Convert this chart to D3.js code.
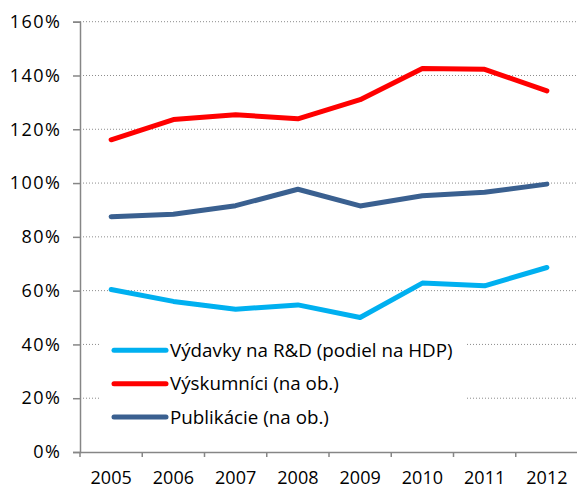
<!DOCTYPE html>
<html>
<head>
<meta charset="utf-8">
<script src="https://cdn.jsdelivr.net/npm/d3@7"></script>
<style>
  body { margin: 0; background: #fff; }
  svg { display: block; font-family: "Open Sans", "Noto Sans", sans-serif; }
</style>
</head>
<body>
<svg id="chart" width="577" height="489"></svg>
<script>
const years = ["2005", "2006", "2007", "2008", "2009", "2010", "2011", "2012"];
const yTicks = [0, 0.2, 0.4, 0.6, 0.8, 1.0, 1.2, 1.4, 1.6];

// hodnoty odcitane z grafu
const vydavky = [0.604, 0.560, 0.531, 0.547, 0.500, 0.628, 0.618, 0.686];
const vyskumnici = [1.161, 1.236, 1.254, 1.239, 1.310, 1.426, 1.423, 1.343];
const publikacie = [0.875, 0.884, 0.916, 0.977, 0.915, 0.953, 0.966, 0.996];

const seriesNames = ["Výdavky na R&D (podiel na HDP)", "Výskumníci (na ob.)", "Publikácie (na ob.)"];
const seriesColors = ["#00b0f0", "#ff0000", "#3a6090"];

const svg = d3.select("#chart");
const plotLeft = 80, plotRight = 578, plotTop = 21.7, plotBottom = 452;
const fontSize = 18;

const x = d3.scaleBand().domain(years).range([plotLeft, plotRight]);
const y = d3.scaleLinear().domain([0, 1.6]).range([plotBottom, plotTop]);

// gridlines
svg.append("g")
  .selectAll("line")
  .data(yTicks.slice(1))
  .join("line")
  .attr("x1", plotLeft)
  .attr("x2", plotRight)
  .attr("y1", d => y(d))
  .attr("y2", d => y(d))
  .attr("stroke", "#8c8c8c")
  .attr("stroke-width", 1)
  .attr("stroke-dasharray", "1,2");

// y axis
const yAxis = svg.append("g")
  .attr("transform", `translate(${plotLeft},0)`)
  .call(d3.axisLeft(y).tickValues(yTicks).tickSize(7).tickFormat(d => Math.round(d * 100) + "%"));
yAxis.select(".domain").attr("stroke", "#868686").attr("stroke-width", 1.5);
yAxis.selectAll(".tick line").attr("stroke", "#868686").attr("stroke-width", 1.5);
yAxis.selectAll(".tick text")
  .attr("x", -18.5)
  .attr("font-size", fontSize)
  .attr("letter-spacing", 1.5)
  .attr("font-family", "Open Sans")
  .attr("fill", "#000");

// x axis
const xAxis = svg.append("g")
  .attr("transform", `translate(0,${plotBottom})`)
  .call(d3.axisBottom(x).tickSize(0).tickSizeOuter(0));
xAxis.select(".domain").attr("stroke", "#868686").attr("stroke-width", 1.5);
xAxis.selectAll(".tick text")
  .attr("y", 19)
  .attr("font-size", fontSize)
  .attr("font-family", "Open Sans")
  .attr("fill", "#000");
// ticks between categories
xAxis.selectAll(".sep")
  .data(years)
  .join("line")
  .attr("class", "sep")
  .attr("x1", d => x(d))
  .attr("x2", d => x(d))
  .attr("y1", 0)
  .attr("y2", 5)
  .attr("stroke", "#868686")
  .attr("stroke-width", 1.5);

// lines
const allSeries = [vydavky, vyskumnici, publikacie];
const line = d3.line()
  .x((d, i) => x(years[i]) + x.bandwidth() / 2)
  .y(d => y(d));

// legend background first so lines stay above it
const legend = svg.append("g");
legend.append("rect")
  .attr("x", 101)
  .attr("y", 328)
  .attr("width", 364)
  .attr("height", 104)
  .attr("fill", "#fff");

svg.append("g")
  .selectAll("path")
  .data(allSeries)
  .join("path")
  .attr("d", line)
  .attr("fill", "none")
  .attr("stroke", (d, i) => seriesColors[i])
  .attr("stroke-width", 5)
  .attr("stroke-linecap", "round")
  .attr("stroke-linejoin", "round");

const items = legend.selectAll(".item")
  .data(seriesNames)
  .join("g")
  .attr("class", "item")
  .attr("transform", (d, i) => `translate(0,${350.3 + i * 33.4})`);
items.append("line")
  .attr("x1", 114)
  .attr("x2", 166)
  .attr("stroke", (d, i) => seriesColors[i])
  .attr("stroke-width", 5)
  .attr("stroke-linecap", "round");
items.append("text")
  .attr("x", 170)
  .attr("dy", "0.35em")
  .attr("font-size", 18.8)
  .text(d => d);
</script>
</body>
</html>
